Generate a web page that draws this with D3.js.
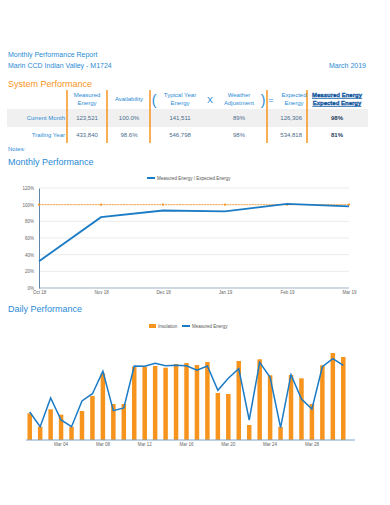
<!DOCTYPE html>
<html><head><meta charset="utf-8">
<script src="https://cdn.jsdelivr.net/npm/d3@7"></script>
<style>
html,body{margin:0;padding:0;background:#fff;}
svg{display:block;font-family:"Liberation Sans",Arial,sans-serif;}
</style></head>
<body><svg id="c" width="390" height="505"></svg>
<script>
// ---- data ----
const reportTitle = "Monthly Performance Report";
const siteName = "Marin CCD Indian Valley - M1724";
const reportMonth = "March 2019";
const tableHeaders = [["Measured","Energy"],["Availability"],["Typical Year","Energy"],["Weather","Adjustment"],["Expected","Energy"],["Measured Energy","Expected Energy"]];
const rowLabels = ["Current Month","Trailing Year"];
const currentMonthValues = ["123,521","100.0%","141,511","89%","126,306","98%"];
const trailingYearValues = ["433,840","98.6%","546,798","98%","534,818","81%"];

const months = ["Oct 18","Nov 18","Dec 18","Jan 19","Feb 19","Mar 19"];
const measuredOverExpected = [0.32,0.85,0.93,0.92,1.01,0.98];
const targetRatio = [1,1,1,1,1,1];
const monthlyTicks = [0,0.2,0.4,0.6,0.8,1.0,1.2];

const days = d3.range(1,32);
const insolation = [26.7,13.3,30.7,25.3,13.3,29,44,66.7,36,36,73.3,73.3,74,72.3,76,77,75,78,47,46,79,15,80.7,64.7,13,65,61.7,36,74.7,87,83];
const measuredEnergy = [28,13.3,42,20,13.3,39,46.3,68.7,29.3,32,74,73.7,76.7,74.3,74.7,74.3,69.7,74,49.7,61.7,71.3,20,77.7,62.7,12.3,65.3,41,31,73.3,81.3,74.7];
const dailyTickDays = [4,8,12,16,20,24,28];

// ---- drawing ----
const svg = d3.select("#c");
const blue = "#2a8bd4", orange = "#f7941d", lineBlue = "#1b7bc4";

svg.append("text").attr("x",8).attr("y",57).attr("font-size",7).attr("fill",blue).text(reportTitle);
svg.append("text").attr("x",8).attr("y",68).attr("font-size",7).attr("fill",blue).text(siteName);
svg.append("text").attr("x",366).attr("y",68).attr("font-size",7).attr("fill",blue).attr("text-anchor","end").text(reportMonth);
svg.append("text").attr("x",8).attr("y",87).attr("font-size",9).attr("fill",orange).text("System Performance");

// table
const colX = [87,129,180,239,294,337];
const rowY = [120,137];
svg.append("rect").attr("x",7).attr("y",109).attr("width",361).attr("height",18).attr("fill","#f0f0f0");
[67,107,150,267,307].forEach(x=>svg.append("line").attr("x1",x).attr("x2",x).attr("y1",90).attr("y2",143).attr("stroke",orange).attr("stroke-width",1.5));
tableHeaders.forEach((h,i)=>{
  const t = svg.append("text").attr("x",colX[i]).attr("text-anchor","middle").attr("font-size",6).attr("fill",blue);
  if(i===5){t.attr("font-weight","bold").attr("fill","#1565b0").attr("text-decoration","underline").attr("stroke","#0d4f94").attr("stroke-width",0.3);}
  if(h.length===1){t.append("tspan").attr("x",colX[i]).attr("y",101).text(h[0]);}
  else{t.append("tspan").attr("x",colX[i]).attr("y",97).text(h[0]);t.append("tspan").attr("x",colX[i]).attr("y",105).text(h[1]);}
});
svg.append("text").attr("x",154).attr("y",105).attr("font-size",14).attr("fill",blue).attr("text-anchor","middle").text("(");
svg.append("text").attr("x",210).attr("y",103).attr("font-size",9).attr("fill",blue).attr("text-anchor","middle").text("X");
svg.append("text").attr("x",263).attr("y",105).attr("font-size",14).attr("fill",blue).attr("text-anchor","middle").text(")");
svg.append("text").attr("x",271).attr("y",103).attr("font-size",9).attr("fill",blue).attr("text-anchor","middle").text("=");
[currentMonthValues,trailingYearValues].forEach((vals,r)=>{
  svg.append("text").attr("x",65).attr("y",rowY[r]).attr("font-size",6).attr("fill",blue).attr("text-anchor","end").text(rowLabels[r]);
  vals.forEach((v,i)=>{
    const t = svg.append("text").attr("y",rowY[r]).attr("font-size",6).attr("fill","#4a6c8c").text(v);
    if(i===4) t.attr("x",302).attr("text-anchor","end");
    else t.attr("x",colX[i]).attr("text-anchor","middle");
    if(i===5) t.attr("font-weight","bold").attr("fill","#1e3d5c");
  });
});
svg.append("text").attr("x",8).attr("y",151).attr("font-size",6).attr("fill",blue).text("Notes:");

// Monthly chart
svg.append("text").attr("x",8).attr("y",165).attr("font-size",9).attr("fill",blue).text("Monthly Performance");
const mx = d3.scalePoint().domain(months).range([39,349]);
const my = d3.scaleLinear().domain([0,1.2]).range([288,188]);
const mg = svg.append("g");
mg.selectAll("line.grid").data(monthlyTicks).join("line").attr("x1",39).attr("x2",349)
  .attr("y1",d=>my(d)).attr("y2",d=>my(d)).attr("stroke",d=>d===0?"#9fb3c8":"#e4e4e4").attr("stroke-width",d=>d===0?1.2:0.7);
const yAx = d3.axisLeft(my).tickValues(monthlyTicks).tickFormat(d3.format(".0%")).tickSize(0).tickPadding(5);
mg.append("g").attr("transform","translate(39,0)").call(yAx).call(g=>{g.select(".domain").attr("stroke","#5f86ab").attr("stroke-width",1);g.selectAll("text").attr("font-size",4.5).attr("fill","#666").attr("font-family","Liberation Sans, Arial, sans-serif");});
const xAx = d3.axisBottom(mx).tickSize(0).tickPadding(3);
mg.append("g").attr("transform","translate(0,288)").call(xAx).call(g=>{g.select(".domain").remove();g.selectAll("text").attr("font-size",4.5).attr("fill","#666").attr("font-family","Liberation Sans, Arial, sans-serif");});
mg.append("path").datum(targetRatio).attr("fill","none").attr("stroke",orange).attr("stroke-width",0.8).attr("stroke-dasharray","2,0.8")
  .attr("d",d3.line().x((d,i)=>mx(months[i])).y(d=>my(d)));
mg.selectAll("circle.t").data(targetRatio).join("circle").attr("cx",(d,i)=>mx(months[i])).attr("cy",d=>my(d)).attr("r",1.1).attr("fill",orange);
mg.append("path").datum(measuredOverExpected).attr("fill","none").attr("stroke",lineBlue).attr("stroke-width",1.8)
  .attr("d",d3.line().x((d,i)=>mx(months[i])).y(d=>my(d)));
// legend
mg.append("rect").attr("x",147).attr("y",177).attr("width",8).attr("height",2).attr("fill",lineBlue);
mg.append("text").attr("x",157).attr("y",179.7).attr("font-size",4.5).attr("fill","#555").text("Measured Energy / Expected Energy");

// Daily chart
svg.append("text").attr("x",8).attr("y",312).attr("font-size",9).attr("fill",blue).text("Daily Performance");
const dx = d3.scaleBand().domain(days).range([24.5,348.5]).paddingInner(0.57).paddingOuter(0.285);
const dy = d3.scaleLinear().domain([0,100]).range([440,340]);
const dg = svg.append("g");
dg.selectAll("rect.bar").data(days).join("rect").attr("x",d=>dx(d)).attr("width",dx.bandwidth())
  .attr("y",(d,i)=>dy(insolation[i])).attr("height",(d,i)=>440-dy(insolation[i])).attr("fill",orange);
dg.append("path").datum(measuredEnergy).attr("fill","none").attr("stroke",lineBlue).attr("stroke-width",1.5).attr("stroke-linejoin","miter")
  .attr("d",d3.line().x((d,i)=>dx(days[i])+dx.bandwidth()/2).y(d=>dy(d)));
dg.append("line").attr("x1",26).attr("x2",355).attr("y1",440).attr("y2",440).attr("stroke","#7fa6c9").attr("stroke-width",1);
const dAx = d3.axisBottom(dx).tickValues(dailyTickDays).tickFormat(d=>"Mar "+String(d).padStart(2,"0")).tickSize(0).tickPadding(3);
dg.append("g").attr("transform","translate(0,440)").call(dAx).call(g=>{g.select(".domain").remove();g.selectAll("text").attr("font-size",4.5).attr("fill","#666").attr("font-family","Liberation Sans, Arial, sans-serif");});
// legend
dg.append("rect").attr("x",149).attr("y",324).attr("width",7).attr("height",4).attr("fill",orange);
dg.append("text").attr("x",158).attr("y",327.6).attr("font-size",4.5).attr("fill","#555").text("Insolation");
dg.append("rect").attr("x",182).attr("y",325).attr("width",8).attr("height",2).attr("fill",lineBlue);
dg.append("text").attr("x",192).attr("y",327.6).attr("font-size",4.5).attr("fill","#555").text("Measured Energy");
</script></body></html>
